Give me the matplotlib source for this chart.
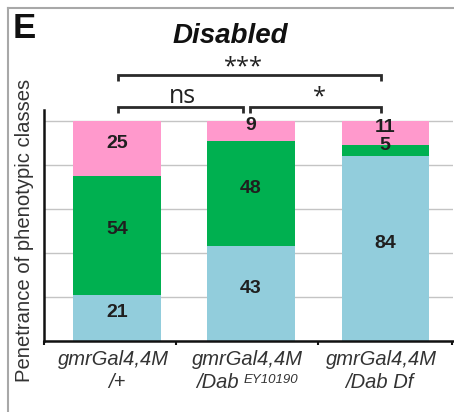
import matplotlib
matplotlib.use("Agg")
import matplotlib.pyplot as plt
from matplotlib.lines import Line2D
import numpy as np

# ---- data ----
cat_line1 = ["gmrGal4,4M", "gmrGal4,4M", "gmrGal4,4M"]
cat_line2 = ["/+", "/Dab", "/Dab Df"]
cat_super = ["", "EY10190", ""]
blue_vals = [21, 43, 84]
green_vals = [54, 48, 5]
pink_vals = [25, 9, 11]
yticks = [0, 20, 40, 60, 80, 100]
sig_labels = ["***", "ns", "*"]

# ---- style ----
c_blue = "#92CDDC"
c_green = "#00B050"
c_pink = "#FF99CC"
txt_col = "#1f1f1f"

W, H = 454, 412
fig = plt.figure(figsize=(W / 100, H / 100), dpi=100)
ax = fig.add_axes([44 / W, 71 / H, 409 / W, 231 / H])

x = np.arange(len(cat_line1))
bw = 0.65
blue = np.array(blue_vals)
green = np.array(green_vals)
pink = np.array(pink_vals)

ax.bar(x, blue, width=bw, color=c_blue, zorder=2)
ax.bar(x, green, width=bw, bottom=blue, color=c_green, zorder=2)
ax.bar(x, pink, width=bw, bottom=blue + green, color=c_pink, zorder=2)

ax.set_xlim(-0.545, 2.507)
ax.set_ylim(0, 105)
ax.set_yticks(yticks)
ax.set_yticklabels([])
ax.tick_params(axis="y", length=0)
ax.grid(axis="y", color="#c4c4c4", linewidth=1.0, zorder=0)
ax.set_axisbelow(True)

for s in ["top", "right"]:
    ax.spines[s].set_visible(False)
for s in ["left", "bottom"]:
    ax.spines[s].set_linewidth(1.8)
    ax.spines[s].set_color("#111111")

# category ticks at boundaries
ax.set_xticks([-0.545, 0.44, 1.5, 2.5])
ax.set_xticklabels([])
ax.tick_params(axis="x", length=3, width=1.5, direction="out", color="#111111")

# category labels
lab_kw = dict(fontsize=14.5, style="italic", family="Liberation Sans",
              color="#333333", clip_on=False)
line2_shift = [0.0, -0.25, -0.04]
for xi, l1, l2, sup, sh in zip(x, cat_line1, cat_line2, cat_super, line2_shift):
    ax.text(xi - 0.03, -4, l1, ha="center", va="top", **lab_kw)
    t2 = ax.text(xi + sh, -14.4, l2, ha="center", va="top", **lab_kw)
    if sup:
        ax.annotate(sup, xy=(1, 0.93), xycoords=t2, xytext=(3.5, 0),
                    textcoords="offset points", ha="left", va="top",
                    fontsize=9.5, style="italic", family="Liberation Sans",
                    color="#333333")

# data labels
off = 2.5
for i in range(len(x)):
    segs = [(0, blue[i]), (blue[i], green[i]), (blue[i] + green[i], pink[i])]
    for b, h in segs:
        ax.text(x[i], b + h / 2 + off, str(h), ha="center", va="center",
                fontsize=14, fontweight="bold", family="Liberation Sans",
                color=txt_col, zorder=3)

# significance brackets
lc = "#2a2a2a"
def bracket(x0, x1, y, drop):
    ax.plot([x0, x0, x1, x1], [y - drop, y, y, y - drop], color=lc,
            lw=2.0, clip_on=False, solid_capstyle="butt", solid_joinstyle="miter")

bracket(0.01, 1.97, 120.9, 2.7)
bracket(0.01, 0.94, 106.4, 2.7)
bracket(0.99, 1.97, 106.4, 2.7)
ax.text(0.94, 124.5, sig_labels[0], ha="center", va="center", fontsize=17,
        family="Open Sans", color="#222222", clip_on=False)
ax.text(0.49, 108.3, sig_labels[1], ha="center", va="baseline", fontsize=18,
        family="Open Sans", color="#222222", clip_on=False)
ax.text(1.51, 110.5, sig_labels[2], ha="center", va="center", fontsize=17,
        family="Open Sans", color="#222222", clip_on=False)

# title, panel letter, y label
fig.text(230 / W, 1 - 43 / H, "Disabled", ha="center", va="baseline",
         fontsize=20, fontweight="bold", style="italic",
         family="Liberation Sans", color="#111111")
fig.text(13 / W, 1 - 38 / H, "E", ha="left", va="baseline", fontsize=25,
         fontweight="bold", family="Liberation Sans", color="#111111")
fig.text(25 / W, 1 - 230 / H, "Penetrance of phenotypic classes",
         rotation=90, ha="center", va="center", fontsize=14.6,
         family="Liberation Sans", color="#333333")

# outer frame
fx = 8 / W
fy = 1 - 8 / H
fig.add_artist(Line2D([fx, fx], [0, fy], transform=fig.transFigure,
                      color="#a8a8a8", lw=1.5))
fig.add_artist(Line2D([fx, 1], [fy, fy], transform=fig.transFigure,
                      color="#a8a8a8", lw=1.5))

fig.savefig("out.png", dpi=100)
